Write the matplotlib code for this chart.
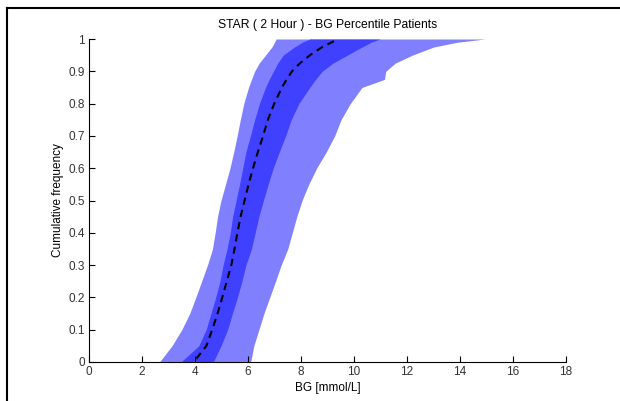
import numpy as np
import matplotlib
matplotlib.use("Agg")
import matplotlib.pyplot as plt
from matplotlib.lines import Line2D

# cumulative frequency levels shared by the band edges
levels = [0, 0.05, 0.1, 0.15, 0.2, 0.25, 0.3, 0.35, 0.4, 0.45, 0.5, 0.55, 0.6,
          0.65, 0.7, 0.75, 0.8, 0.85, 0.875, 0.9, 0.925, 0.95, 0.975, 0.99, 1.0]

# BG [mmol/L] of each percentile band edge at those levels
outer_low = [2.66, 3.13, 3.50, 3.80, 4.03, 4.25, 4.47, 4.66, 4.76, 4.85, 4.98, 5.15, 5.32,
             5.46, 5.59, 5.71, 5.84, 6.02, 6.13, 6.25, 6.42, 6.66, 6.90, 7.00, 7.06]
inner_low = [3.47, 4.14, 4.42, 4.60, 4.78, 4.94, 5.06, 5.21, 5.33, 5.42, 5.55, 5.68, 5.80,
             5.92, 6.09, 6.25, 6.43, 6.66, 6.80, 6.96, 7.12, 7.33, 7.75, 8.05, 8.34]
inner_high = [4.69, 4.98, 5.23, 5.41, 5.60, 5.77, 5.92, 6.13, 6.27, 6.41, 6.58, 6.76, 6.95,
              7.18, 7.42, 7.63, 7.92, 8.33, 8.55, 8.80, 9.20, 9.75, 10.30, 10.65, 10.98]
outer_high = [6.10, 6.22, 6.41, 6.60, 6.82, 7.04, 7.25, 7.50, 7.67, 7.84, 8.04, 8.29, 8.59,
              8.95, 9.27, 9.51, 9.86, 10.30, 11.15, 11.20, 11.55, 12.20, 13.00, 13.90, 14.94]

# median curve
median_y = [0.01, 0.05, 0.1, 0.15, 0.2, 0.25, 0.3, 0.35, 0.4, 0.45, 0.5, 0.55, 0.6,
            0.65, 0.7, 0.75, 0.8, 0.85, 0.875, 0.9, 0.925, 0.95, 0.975, 0.99, 1.0]
median_x = [4.05, 4.43, 4.65, 4.85, 5.03, 5.20, 5.37, 5.49, 5.60, 5.72, 5.87, 6.02, 6.19,
            6.37, 6.57, 6.75, 6.99, 7.28, 7.46, 7.66, 7.96, 8.34, 8.80, 9.16, 9.41]

x_ticks = [0, 2, 4, 6, 8, 10, 12, 14, 16, 18]
y_ticks = [0, 0.1, 0.2, 0.3, 0.4, 0.5, 0.6, 0.7, 0.8, 0.9, 1]
y_tick_labels = ["0", "0.1", "0.2", "0.3", "0.4", "0.5", "0.6", "0.7", "0.8", "0.9", "1"]

plt.rcParams["font.family"] = ["Liberation Sans", "DejaVu Sans"]

fig = plt.figure(figsize=(6.2, 4.01), dpi=100)
ax = fig.add_axes([89 / 620, (401 - 362) / 401, 477 / 620, 323 / 401])

ax.fill_betweenx(levels, outer_low, outer_high, color="#8080ff", lw=0)
ax.fill_betweenx(levels, inner_low, inner_high, color="#4040ff", lw=0)
ax.plot(median_x, median_y, color="black", lw=1.5, linestyle=(0, (3.5, 2.5)))

ax.set_xlim(0, 18)
ax.set_ylim(0, 1)
ax.set_xticks(x_ticks)
ax.set_yticks(y_ticks)
ax.set_yticklabels(y_tick_labels)
ax.spines["top"].set_visible(False)
ax.spines["right"].set_visible(False)
ax.tick_params(direction="in", length=4, width=0.8, labelsize=8.5, colors="black",
               labelcolor="#333333", pad=3)

ax.set_title("STAR ( 2 Hour ) - BG Percentile Patients", fontsize=8.7, pad=8)
ax.set_xlabel("BG [mmol/L]", fontsize=8.5, labelpad=3)
ax.set_ylabel("Cumulative frequency", fontsize=8.5, labelpad=3)

# frame of the original screenshot (left and top edges)
fig.add_artist(Line2D([6.5 / 620, 6.5 / 620], [0, 1 - 8 / 401], transform=fig.transFigure,
                      color="black", lw=1.5))
fig.add_artist(Line2D([6.5 / 620, 1], [1 - 8 / 401, 1 - 8 / 401], transform=fig.transFigure,
                      color="black", lw=1.5))

fig.savefig("out.png", dpi=100)
